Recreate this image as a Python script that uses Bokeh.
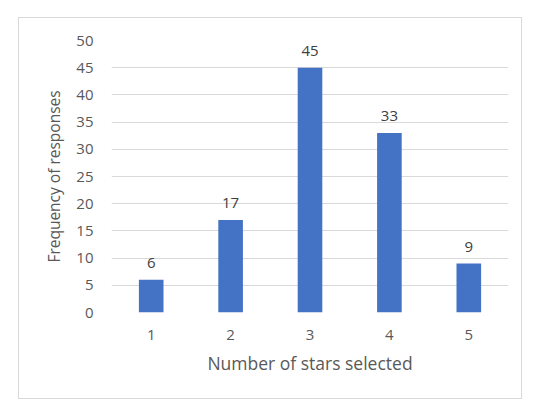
from bokeh.plotting import figure
from bokeh.models import FactorRange, Range1d, FixedTicker, ColumnDataSource, LabelSet
from bokeh.core.properties import value
from bokeh.embed import file_html
from bokeh.resources import INLINE

categories = ["1", "2", "3", "4", "5"]
values = [6, 17, 45, 33, 9]
y_ticks = [0, 5, 10, 15, 20, 25, 30, 35, 40, 45, 50]

FONT = "Open Sans"
TXT = "#595959"

src = ColumnDataSource(dict(x=categories, y=values, label=[str(v) for v in values]))

p = figure(width=504, height=382, x_range=FactorRange(*categories, range_padding=0),
           y_range=Range1d(0, 50), output_backend="svg", toolbar_location=None,
           min_border_left=92, min_border_right=15, min_border_top=22, min_border_bottom=88)
p.margin = (17, 0, 0, 18)
p.styles = {"border": "1px solid #d9d9d9", "box-sizing": "border-box"}
p.outline_line_color = None
p.background_fill_color = "white"
p.border_fill_color = "white"

p.vbar(x="x", top="y", width=0.31, source=src, color="#4472C4", line_color=None)

labels = LabelSet(x="x", y="y", text="label", source=src, text_align="center",
                  text_baseline="middle", y_offset=17, text_font=value(FONT),
                  text_font_size="15px", text_color="#404040")
p.add_layout(labels)

p.yaxis.ticker = FixedTicker(ticks=y_ticks)
p.ygrid.ticker = FixedTicker(ticks=y_ticks)
p.ygrid.grid_line_color = "#d9d9d9"
p.ygrid.grid_line_width = 1
p.xgrid.grid_line_color = None

for ax in (p.xaxis[0], p.yaxis[0]):
    ax.axis_line_color = None
    ax.major_tick_line_color = None
    ax.minor_tick_line_color = None
    ax.major_label_text_font = FONT
    ax.major_label_text_font_size = "15px"
    ax.major_label_text_color = TXT
    ax.axis_label_text_font = FONT
    ax.axis_label_text_font_style = "normal"
    ax.axis_label_text_color = TXT

p.yaxis.axis_label = "Frequency of responses"
p.yaxis.axis_label_text_font_size = "15.5px"
p.yaxis.major_label_standoff = 12
p.yaxis.axis_label_standoff = 8
p.xaxis.axis_label = "Number of stars selected"
p.xaxis.axis_label_text_font_size = "17.5px"
p.xaxis.major_label_standoff = 11
p.xaxis.axis_label_standoff = 8

open("out.html", "w").write(file_html(p, INLINE))
